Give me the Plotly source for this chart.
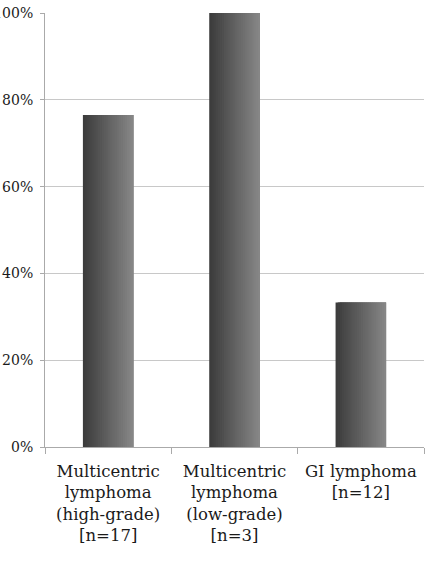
import plotly.graph_objects as go

categories = [
    "Multicentric<br>lymphoma<br>(high-grade)<br>[n=17]",
    "Multicentric<br>lymphoma<br>(low-grade)<br>[n=3]",
    "GI lymphoma<br>[n=12]",
]
values = [0.765, 1.0, 0.333]
y_ticks = [0, 0.2, 0.4, 0.6, 0.8, 1.0]

FONT = "DejaVu Serif"

fig = go.Figure()

n_slices = 24
bar_width = 0.40
slice_w = bar_width / n_slices
c0, c1 = 0x3c, 0x86
for i in range(n_slices):
    t = i / (n_slices - 1)
    g = int(round(c0 + (c1 - c0) * t))
    w = slice_w * (3 if i < n_slices - 1 else 1)
    w = min(w, bar_width - i * slice_w)
    fig.add_trace(go.Bar(
        x=categories,
        y=values,
        width=w,
        offset=-bar_width / 2 + i * slice_w,
        marker=dict(color=f"rgb({g},{g},{g})", line=dict(width=0)),
        showlegend=False,
        hoverinfo="skip",
    ))

fig.update_layout(
    width=425,
    height=574,
    margin=dict(l=45, r=1, t=13, b=127),
    paper_bgcolor="white",
    plot_bgcolor="white",
    barmode="overlay",
    font=dict(family=FONT, color="#1a1a1a"),
)
fig.update_xaxes(
    type="category",
    range=[-0.5, 2.5],
    showline=True,
    linecolor="#aaaaaa",
    linewidth=1,
    ticks="outside",
    tickson="boundaries",
    ticklen=6,
    tickcolor="#aaaaaa",
    tickfont=dict(family=FONT, size=16.5),
    ticklabelstandoff=9,
    showgrid=False,
    tickangle=0,
    automargin=False,
)
fig.update_yaxes(
    range=[0, 1],
    tickvals=y_ticks,
    tickformat=".0%",
    showline=True,
    linecolor="#aaaaaa",
    linewidth=1,
    ticks="outside",
    ticklen=4,
    tickcolor="#aaaaaa",
    showgrid=True,
    gridcolor="#c8c8c8",
    gridwidth=1,
    tickfont=dict(family=FONT, size=14),
    ticklabelstandoff=4,
    zeroline=False,
    automargin=False,
)

fig.write_html("out.html")
